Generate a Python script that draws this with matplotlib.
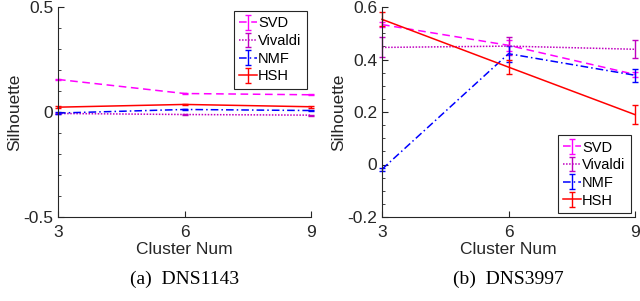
import numpy as np
import matplotlib.pyplot as plt
from matplotlib.ticker import MultipleLocator, FuncFormatter

plt.rcParams["font.family"] = ["Liberation Sans", "DejaVu Sans"]

clusters = [3, 6, 9]
methods = ["SVD", "Vivaldi", "NMF", "HSH"]

# DNS1143
a_mean = {
    "SVD": [0.155, 0.088, 0.082],
    "Vivaldi": [-0.007, -0.012, -0.015],
    "NMF": [-0.005, 0.012, 0.007],
    "HSH": [0.023, 0.036, 0.025],
}
a_err = {
    "SVD": [0.003, 0.003, 0.003],
    "Vivaldi": [0.002, 0.002, 0.002],
    "NMF": [0.003, 0.003, 0.003],
    "HSH": [0.004, 0.004, 0.004],
}

# DNS3997
b_mean = {
    "SVD": [0.533, 0.454, 0.343],
    "Vivaldi": [0.446, 0.451, 0.439],
    "NMF": [-0.018, 0.422, 0.340],
    "HSH": [0.553, 0.371, 0.190],
}
b_err = {
    "SVD": [0.01, 0.02, 0.01],
    "Vivaldi": [0.038, 0.033, 0.034],
    "NMF": [0.005, 0.03, 0.025],
    "HSH": [0.027, 0.027, 0.037],
}

styles = {
    "SVD": dict(color="#ff00ff", linestyle=(0, (5, 3))),
    "Vivaldi": dict(color="#c000c0", linestyle=(0, (1, 1))),
    "NMF": dict(color="#0000ff", linestyle=(0, (5, 2, 1, 2))),
    "HSH": dict(color="#ff0000", linestyle="-"),
}

fig = plt.figure(figsize=(6.4, 3.01), dpi=100)
ax1 = fig.add_axes([58 / 640, 1 - 217 / 301, 253 / 640, 210 / 301])
ax2 = fig.add_axes([382 / 640, 1 - 217 / 301, 253 / 640, 210 / 301])

grey = "#262626"


def draw(ax, means, errs, ylim, major, minor, legend_loc):
    for m in methods:
        st = styles[m]
        cont = ax.errorbar(clusters, means[m], yerr=errs[m], color=st["color"],
                           linestyle=st["linestyle"], linewidth=1.1, elinewidth=1.0,
                           capsize=2.5, capthick=1.0, label=m)
        for art in cont.get_children():
            art.set_clip_on(False)
    ax.set_xlim(3, 9)
    ax.set_ylim(*ylim)
    ax.set_xticks(clusters)
    ax.yaxis.set_major_locator(MultipleLocator(major))
    ax.yaxis.set_minor_locator(MultipleLocator(minor))
    ax.tick_params(direction="in", colors=grey, labelsize=12.5, length=4)
    ax.tick_params(which="minor", direction="in", colors=grey, length=2.5)
    ax.tick_params(axis="x", pad=6)
    for s in ["top", "right"]:
        ax.spines[s].set_visible(False)
    for s in ["left", "bottom"]:
        ax.spines[s].set_color(grey)
    ax.set_xlabel("Cluster Num", fontsize=12.5, color=grey, labelpad=1)
    ax.set_ylabel("Silhouette", fontsize=12.5, color=grey, labelpad=1)
    leg = ax.legend(loc=legend_loc, fontsize=10.5, handlelength=1.2,
                    handletextpad=0.1, borderpad=0.35, labelspacing=0.25,
                    fancybox=False, framealpha=1, borderaxespad=0.3)
    leg.get_frame().set_edgecolor(grey)
    leg.get_frame().set_linewidth(0.8)


draw(ax1, a_mean, a_err, (-0.5, 0.5), 0.5, 0.1, "upper right")
draw(ax2, b_mean, b_err, (-0.2, 0.6), 0.2, 0.05, "lower right")
ax1.yaxis.set_major_formatter(FuncFormatter(lambda v, p: "0" if abs(v) < 1e-9 else f"{v:g}"))
ax2.yaxis.set_major_formatter(FuncFormatter(lambda v, p: "0" if abs(v) < 1e-9 else f"{v:.1f}"))

fig.text(185 / 640, 1 - 279 / 301, "(a)  DNS1143", ha="center", va="center",
         family="Liberation Serif", fontsize=14)
fig.text(508 / 640, 1 - 279 / 301, "(b)  DNS3997", ha="center", va="center",
         family="Liberation Serif", fontsize=14)

fig.savefig("out.png", dpi=100)
